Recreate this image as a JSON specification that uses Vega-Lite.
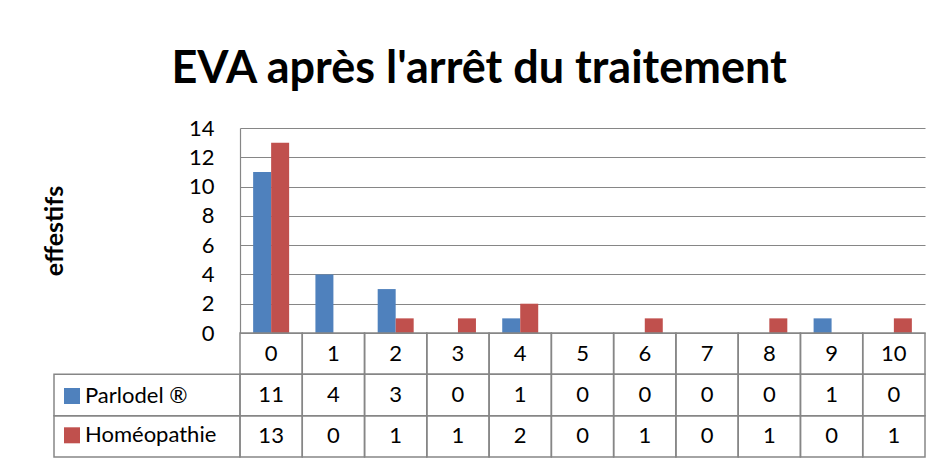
{
  "$schema": "https://vega.github.io/schema/vega-lite/v6.json",
  "background": "white",
  "padding": {"left": 42, "top": 47, "right": 10, "bottom": 4},
  "title": {"text": "EVA après l'arrêt du traitement", "font": "Lato", "fontSize": 45, "fontWeight": "bold", "color": "black", "anchor": "middle", "offset": 25, "dx": -5},
  "datasets": {
    "eva": [
      {"note": 0, "serie": "Parlodel ®", "effectif": 11},
      {"note": 1, "serie": "Parlodel ®", "effectif": 4},
      {"note": 2, "serie": "Parlodel ®", "effectif": 3},
      {"note": 3, "serie": "Parlodel ®", "effectif": 0},
      {"note": 4, "serie": "Parlodel ®", "effectif": 1},
      {"note": 5, "serie": "Parlodel ®", "effectif": 0},
      {"note": 6, "serie": "Parlodel ®", "effectif": 0},
      {"note": 7, "serie": "Parlodel ®", "effectif": 0},
      {"note": 8, "serie": "Parlodel ®", "effectif": 0},
      {"note": 9, "serie": "Parlodel ®", "effectif": 1},
      {"note": 10, "serie": "Parlodel ®", "effectif": 0},
      {"note": 0, "serie": "Homéopathie", "effectif": 13},
      {"note": 1, "serie": "Homéopathie", "effectif": 0},
      {"note": 2, "serie": "Homéopathie", "effectif": 1},
      {"note": 3, "serie": "Homéopathie", "effectif": 1},
      {"note": 4, "serie": "Homéopathie", "effectif": 2},
      {"note": 5, "serie": "Homéopathie", "effectif": 0},
      {"note": 6, "serie": "Homéopathie", "effectif": 1},
      {"note": 7, "serie": "Homéopathie", "effectif": 0},
      {"note": 8, "serie": "Homéopathie", "effectif": 1},
      {"note": 9, "serie": "Homéopathie", "effectif": 0},
      {"note": 10, "serie": "Homéopathie", "effectif": 1}
    ]
  },
  "columns": 2,
  "spacing": 0,
  "bounds": "flush",
  "concat": [
    {
      "width": 186,
      "height": 205,
      "data": {"values": [{}]},
      "mark": {"type": "text"},
      "encoding": {}
    },
    {
      "width": 685,
      "height": 205,
      "data": {"name": "eva"},
      "mark": {"type": "bar"},
      "encoding": {
        "x": {"field": "note", "type": "ordinal", "scale": {"paddingInner": 0, "paddingOuter": 0}, "axis": null},
        "xOffset": {"field": "serie", "type": "nominal", "sort": ["Parlodel ®", "Homéopathie"], "scale": {"paddingInner": 0, "paddingOuter": 0.73}},
        "y": {
          "field": "effectif", "type": "quantitative",
          "scale": {"domain": [0, 14], "nice": false},
          "axis": {
            "values": [0, 2, 4, 6, 8, 10, 12, 14],
            "grid": true, "gridColor": "#868686", "gridWidth": 1.2,
            "domain": true, "domainColor": "#868686", "domainWidth": 1.2,
            "ticks": false, "labelPadding": 26,
            "labelFont": "Lato", "labelFontSize": 22, "labelColor": "black",
            "title": "effestifs", "titleFont": "Lato", "titleFontSize": 25, "titleFontWeight": "bold", "titleColor": "black",
            "titlePadding": 121
          }
        },
        "color": {
          "field": "serie", "type": "nominal", "sort": ["Parlodel ®", "Homéopathie"],
          "scale": {"range": ["#4F81BD", "#C0504D"]},
          "legend": {
            "orient": "none", "legendX": 7, "legendY": 257, "title": null, "padding": 0,
            "symbolType": "square", "symbolSize": 256, "symbolStrokeWidth": 0,
            "labelFont": "Lato", "labelFontSize": 22, "labelColor": "black", "labelOffset": 2, "rowPadding": 17.3
          }
        }
      }
    },
    {
      "width": 186,
      "height": 124,
      "data": {"name": "eva"},
      "transform": [{"filter": "datum.note === 0"}],
      "mark": {"type": "rect", "filled": false, "stroke": "#868686", "strokeWidth": 1.5},
      "encoding": {
        "y": {"field": "serie", "type": "nominal", "scale": {"domain": ["en-tête", "Parlodel ®", "Homéopathie"], "paddingInner": 0, "paddingOuter": 0}, "axis": null}
      }
    },
    {
      "width": 685,
      "height": 124,
      "data": {"name": "eva"},
      "encoding": {
        "x": {"field": "note", "type": "ordinal", "scale": {"paddingInner": 0, "paddingOuter": 0}, "axis": null}
      },
      "layer": [
        {
          "mark": {"type": "rect", "filled": false, "stroke": "#868686", "strokeWidth": 1.5},
          "encoding": {
            "y": {"field": "serie", "type": "nominal", "scale": {"domain": ["en-tête", "Parlodel ®", "Homéopathie"], "paddingInner": 0, "paddingOuter": 0}, "axis": null}
          }
        },
        {
          "transform": [{"filter": "datum.serie === 'Parlodel ®'"}],
          "mark": {"type": "rect", "filled": false, "stroke": "#868686", "strokeWidth": 1.5},
          "encoding": {"y": {"datum": "en-tête", "type": "nominal"}}
        },
        {
          "mark": {"type": "text", "font": "Lato", "fontSize": 22, "color": "black"},
          "encoding": {
            "y": {"field": "serie", "type": "nominal"},
            "text": {"field": "effectif", "type": "quantitative"}
          }
        },
        {
          "transform": [{"filter": "datum.serie === 'Parlodel ®'"}],
          "mark": {"type": "text", "font": "Lato", "fontSize": 22, "color": "black"},
          "encoding": {
            "y": {"datum": "en-tête", "type": "nominal"},
            "text": {"field": "note", "type": "ordinal"}
          }
        }
      ]
    }
  ],
  "config": {"view": {"stroke": null}, "font": "Lato"}
}
